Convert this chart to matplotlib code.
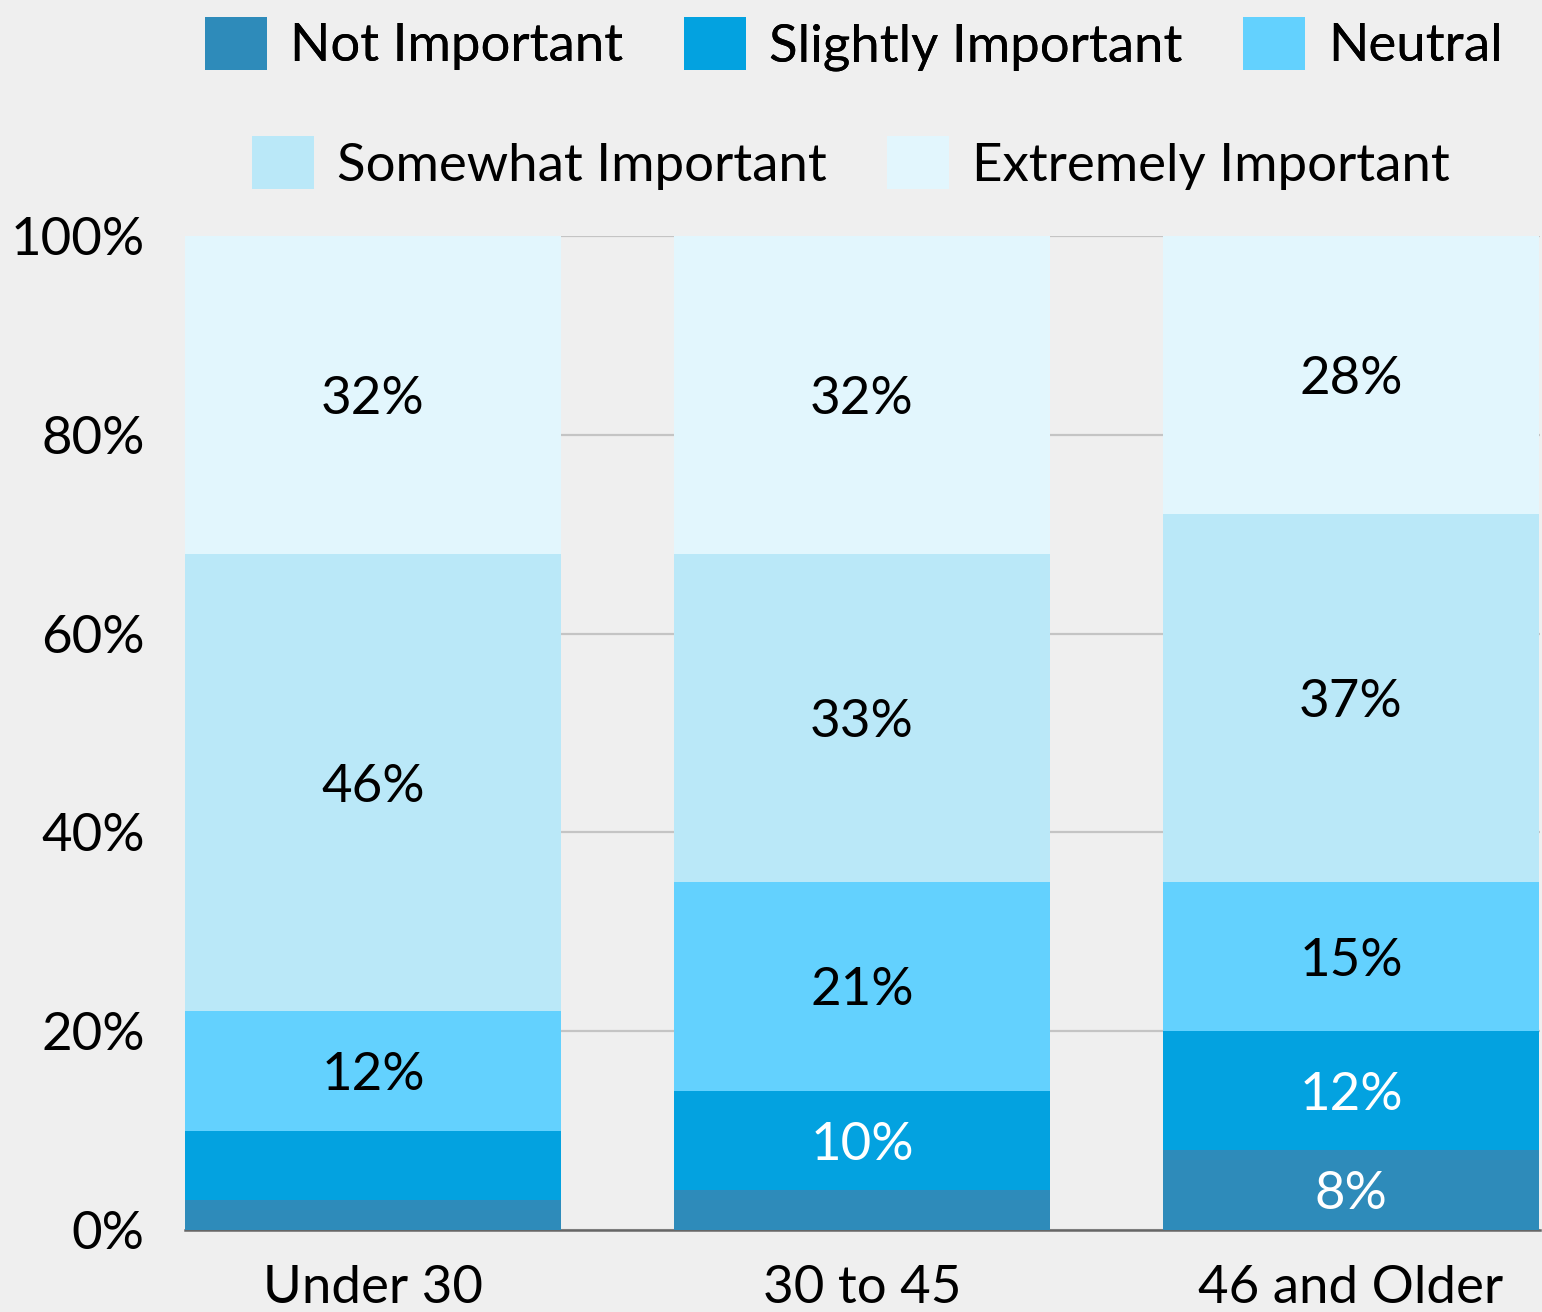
import matplotlib
matplotlib.use("Agg")
import matplotlib.pyplot as plt
from matplotlib.patches import Patch
import numpy as np

plt.rcParams['font.family'] = ['Lato', 'DejaVu Sans']

categories = ["Under 30", "30 to 45", "46 and Older"]
series_names = ["Not Important", "Slightly Important", "Neutral",
                "Somewhat Important", "Extremely Important"]
not_important = [3, 4, 8]
slightly_important = [7, 10, 12]
neutral = [12, 21, 15]
somewhat_important = [46, 33, 37]
extremely_important = [32, 32, 28]
y_ticks = [0, 20, 40, 60, 80, 100]
y_tick_labels = ["0%", "20%", "40%", "60%", "80%", "100%"]

series_values = [not_important, slightly_important, neutral,
                 somewhat_important, extremely_important]
colors = ["#2e8bba", "#03a2e0", "#63d1fe", "#bae8f8", "#e2f6fd"]
label_colors = ["white", "white", "black", "black", "black"]
min_labeled = 8

bg = "#efefef"
fig = plt.figure(figsize=(15.42, 13.12), dpi=100, facecolor=bg)
ax = fig.add_axes([185 / 1542, 82 / 1312, 1355 / 1542, 994 / 1312])
ax.set_facecolor(bg)

x = np.arange(len(categories))
width = 0.769
bottom = np.zeros(len(categories))
for name, vals, col, lc in zip(series_names, series_values, colors, label_colors):
    vals = np.array(vals, dtype=float)
    ax.bar(x, vals, width, bottom=bottom, color=col, label=name, zorder=2,
           linewidth=0)
    for xi, v, b in zip(x, vals, bottom):
        if v >= min_labeled:
            ax.text(xi, b + v / 2, f"{v:.0f}%", ha="center",
                    va="center_baseline", color=lc, fontsize=38, zorder=3)
    bottom += vals

ax.set_xlim(-0.3845, 2.3865)
ax.set_ylim(0, 100)
ax.set_yticks(y_ticks)
ax.set_yticklabels(y_tick_labels)
ax.set_xticks(x)
ax.set_xticklabels(categories)
ax.tick_params(axis="both", length=0, labelsize=38, colors="black")
ax.tick_params(axis="y", pad=29)
ax.tick_params(axis="x", pad=25)
ax.yaxis.grid(True, color="#c4c4c4", linewidth=1.6, zorder=0)
ax.set_axisbelow(True)
for s in ["top", "right", "left"]:
    ax.spines[s].set_visible(False)
ax.spines["bottom"].set_color("#666666")
ax.spines["bottom"].set_linewidth(1.8)
ax.spines["bottom"].set_zorder(1)

handles = [Patch(facecolor=c, edgecolor="none") for c in colors]
common = dict(frameon=False, fontsize=38, handlelength=1.17, handleheight=1.17,
              handletextpad=0.44, columnspacing=1.15, borderpad=0, borderaxespad=0)
leg1 = fig.legend(handles[:3], series_names[:3], ncol=3, loc="center",
                  bbox_to_anchor=(854 / 1542, 1 - 44 / 1312), **common)
fig.add_artist(leg1)
fig.legend(handles[3:], series_names[3:], ncol=2, loc="center",
           bbox_to_anchor=(851 / 1542, 1 - 163 / 1312), **common)

fig.savefig("out.png", dpi=100, facecolor=bg)
